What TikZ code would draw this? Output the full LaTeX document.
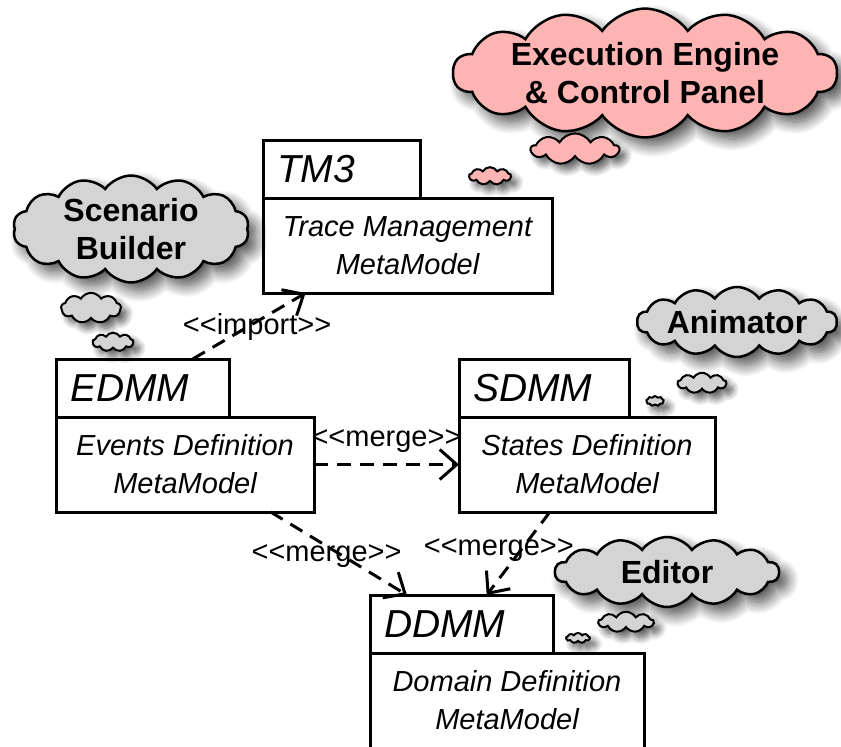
\documentclass[tikz,border=0pt]{standalone}
\usepackage{fontspec}
\setmainfont{Liberation Sans}
\usetikzlibrary{shapes.symbols, arrows.meta, shadows.blur}
\definecolor{cloudpink}{RGB}{255,180,180}
\definecolor{cloudgray}{RGB}{212,212,212}

\begin{document}
\begin{tikzpicture}[x=1pt,y=-1pt,line width=3pt,
    tab/.style={draw,anchor=north west,text width=#1,minimum height=58pt,inner xsep=14pt,inner ysep=0pt,
                outer sep=0pt,font=\itshape\fontsize{39}{44}\selectfont},
    body/.style={draw,anchor=north west,minimum width=#1,minimum height=95pt,align=center,outer sep=0pt,
                 font=\itshape\fontsize{29}{38}\selectfont},
    dep/.style={dash pattern=on 14pt off 9pt,-{Straight Barb[length=17pt,width=30pt,line width=3pt]}},
    stereo/.style={font=\fontsize{29}{34}\selectfont,inner sep=0pt},
    thought/.style={cloud,cloud puffs=14,cloud puff arc=110,cloud ignores aspect,draw,fill=#1,
                    line width=2.5pt,align=center,inner sep=0pt,font=\bfseries\fontsize{32}{38}\selectfont,
                    blur shadow={shadow xshift=8pt,shadow yshift=-8pt,shadow blur radius=12pt,
                                 shadow blur steps=14,shadow opacity=70}},
    puff/.style={cloud,cloud puffs=9,cloud puff arc=120,cloud ignores aspect,draw,fill=#1,line width=2pt,
                 blur shadow={shadow xshift=6pt,shadow yshift=-6pt,shadow blur radius=7pt,
                              shadow blur steps=10,shadow opacity=65}}]
    \useasboundingbox (0,0) rectangle (841,747);

    % packages
    \node[tab=129pt] (tm3tab) at (263,140) {TM3};
    \node[body=289pt] (tm3) at (tm3tab.south west) {Trace Management\\MetaModel};

    \node[tab=145pt] (edmmtab) at (56,359) {EDMM};
    \node[body=258pt] (edmm) at (edmmtab.south west) {Events Definition\\MetaModel};

    \node[tab=142pt] (sdmmtab) at (459,359) {SDMM};
    \node[body=256pt] (sdmm) at (sdmmtab.south west) {States Definition\\MetaModel};

    \node[tab=155pt] (ddmmtab) at (370,595) {DDMM};
    \node[body=274pt] (ddmm) at (ddmmtab.south west) {Domain Definition\\MetaModel};

    % dependencies
    \path[dep]
      (edmmtab.30) edge node[stereo,pos=.57,yshift=-6pt] {<{}<import>{}>} (tm3.-155)
      (edmm) edge node[stereo,midway,yshift=23pt] {<{}<merge>{}>} (sdmm)
      (edmm.-29) edge node[stereo,pos=.41,yshift=-10pt] {<{}<merge>{}>} (ddmmtab.152)
      (sdmm.-128) edge node[stereo,pos=.46,xshift=-22pt] {<{}<merge>{}>} (ddmmtab.49);

    % thought clouds
    \node[thought=cloudpink,minimum width=384pt,minimum height=104pt] (engine) at (645,73)
      {Execution Engine\\\& Control Panel};
    \node[puff=cloudpink,inner xsep=32pt,inner ysep=5pt] (enginepuffa) at (575,149) {};
    \node[puff=cloudpink,inner xsep=15pt,inner ysep=3.5pt] (enginepuffb) at (490,176) {};

    \node[thought=cloudgray,minimum width=236pt,minimum height=106pt] (scenario) at (131,229)
      {Scenario\\Builder};
    \node[puff=cloudgray,inner xsep=21pt,inner ysep=7pt] (scenariopuffa) at (91,308) {};
    \node[puff=cloudgray,inner xsep=14.5pt,inner ysep=4pt] (scenariopuffb) at (113,342) {};

    \node[thought=cloudgray,minimum width=200pt,minimum height=70pt] (animator) at (737,322) {Animator};
    \node[puff=cloudgray,inner xsep=17.5pt,inner ysep=4pt] (animatorpuffa) at (702,383) {};
    \node[puff=cloudgray,inner xsep=6pt,inner ysep=2.5pt] (animatorpuffb) at (655,401) {};

    \node[thought=cloudgray,minimum width=224pt,minimum height=70pt] (editor) at (667,572) {Editor};
    \node[puff=cloudgray,inner xsep=20pt,inner ysep=3.5pt] (editorpuffa) at (626,622) {};
    \node[puff=cloudgray,inner xsep=8.5pt,inner ysep=2pt] (editorpuffb) at (578,638) {};
\end{tikzpicture}
\end{document}
